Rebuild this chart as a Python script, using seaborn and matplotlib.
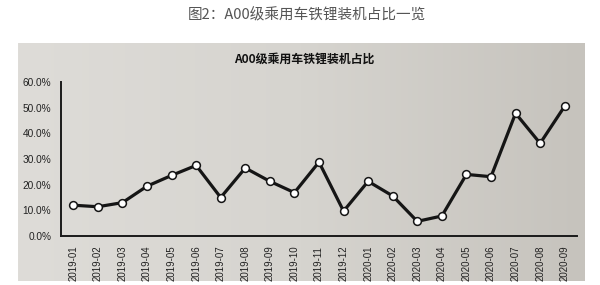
import numpy as np
import pandas as pd
import matplotlib
matplotlib.use("Agg")
import matplotlib.pyplot as plt
import seaborn as sns

months = ["2019-01", "2019-02", "2019-03", "2019-04", "2019-05", "2019-06",
          "2019-07", "2019-08", "2019-09", "2019-10", "2019-11", "2019-12",
          "2020-01", "2020-02", "2020-03", "2020-04", "2020-05", "2020-06",
          "2020-07", "2020-08", "2020-09"]
share = [12.0, 11.4, 13.0, 19.4, 23.6, 27.5, 15.0, 26.5, 21.3, 16.9, 28.8,
         9.7, 21.3, 15.6, 5.7, 7.8, 24.0, 23.1, 47.8, 36.1, 50.6]
y_ticks = [0, 10, 20, 30, 40, 50, 60]
page_title = "图2：A00级乘用车铁锂装机占比一览"
chart_title = "A00级乘用车铁锂装机占比"

sns.set_theme(style="white")
plt.rcParams['font.family'] = ['Liberation Sans', 'Noto Sans CJK SC', 'DejaVu Sans']

df = pd.DataFrame({"pos": np.arange(len(months)), "share": share})

W, H = 600, 285
fig = plt.figure(figsize=(6, 2.85), dpi=100)
fig.patch.set_facecolor("white")

# photo-like gray panel with a soft horizontal gradient
px0, py0, px1, py1 = 18, 43, 585, 281
bg = fig.add_axes([px0 / W, 1 - py1 / H, (px1 - px0) / W, (py1 - py0) / H])
left_c = np.array([222, 220, 216]) / 255
mid_c = np.array([214, 212, 207]) / 255
right_c = np.array([198, 195, 189]) / 255
t = np.linspace(0, 1, 256)
grad = np.where(t[:, None] < 0.5,
                left_c + (mid_c - left_c) * (t[:, None] / 0.5),
                mid_c + (right_c - mid_c) * ((t[:, None] - 0.5) / 0.5))
bg.imshow(grad[None, :, :], aspect="auto", extent=[0, 1, 0, 1])
bg.set_axis_off()

# main axes
ax0, ay0, ax1, ay1 = 61, 82, 577, 236
ax = fig.add_axes([ax0 / W, 1 - ay1 / H, (ax1 - ax0) / W, (ay1 - ay0) / H])
ax.patch.set_alpha(0)

sns.lineplot(data=df, x="pos", y="share", ax=ax, color="#151515", linewidth=2.3,
             marker="o", markersize=5.6, markerfacecolor="white",
             markeredgecolor="#151515", markeredgewidth=1.1)

ax.set_xlim(-0.45, len(months) - 0.51)
ax.set_ylim(0, 60)
ax.set_yticks(y_ticks)
ax.set_yticklabels([f"{v:.1f}%" for v in y_ticks], fontsize=7.3, color="#222222")
ax.set_xticks(np.arange(len(months)))
ax.set_xticklabels(months, rotation=90, fontsize=7, color="#222222")
ax.set_xticks(np.arange(len(months) + 1) - 0.5, minor=True)
ax.tick_params(axis="x", which="major", length=0, pad=7)
ax.tick_params(axis="x", which="minor", direction="in", length=3, width=1.0,
               color="#222222")
ax.tick_params(axis="y", which="major", direction="in", length=3, width=1.0,
               color="#222222", pad=7)
ax.set_xlabel("")
ax.set_ylabel("")
for side in ["top", "right"]:
    ax.spines[side].set_visible(False)
for side in ["left", "bottom"]:
    ax.spines[side].set_color("#1a1a1a")
    ax.spines[side].set_linewidth(1.4)

fig.text(307 / W, 1 - 15 / H, page_title, ha="center", va="center",
         fontsize=10.5, color="#555555",
         family=['Noto Sans CJK SC', 'DejaVu Sans'])
fig.text(304 / W, 1 - 59 / H, chart_title, ha="center", va="center",
         fontsize=8.6, color="#111111", fontweight="bold",
         family=['Noto Sans CJK SC', 'DejaVu Sans'])

fig.savefig("out.png", dpi=100, facecolor="white")
